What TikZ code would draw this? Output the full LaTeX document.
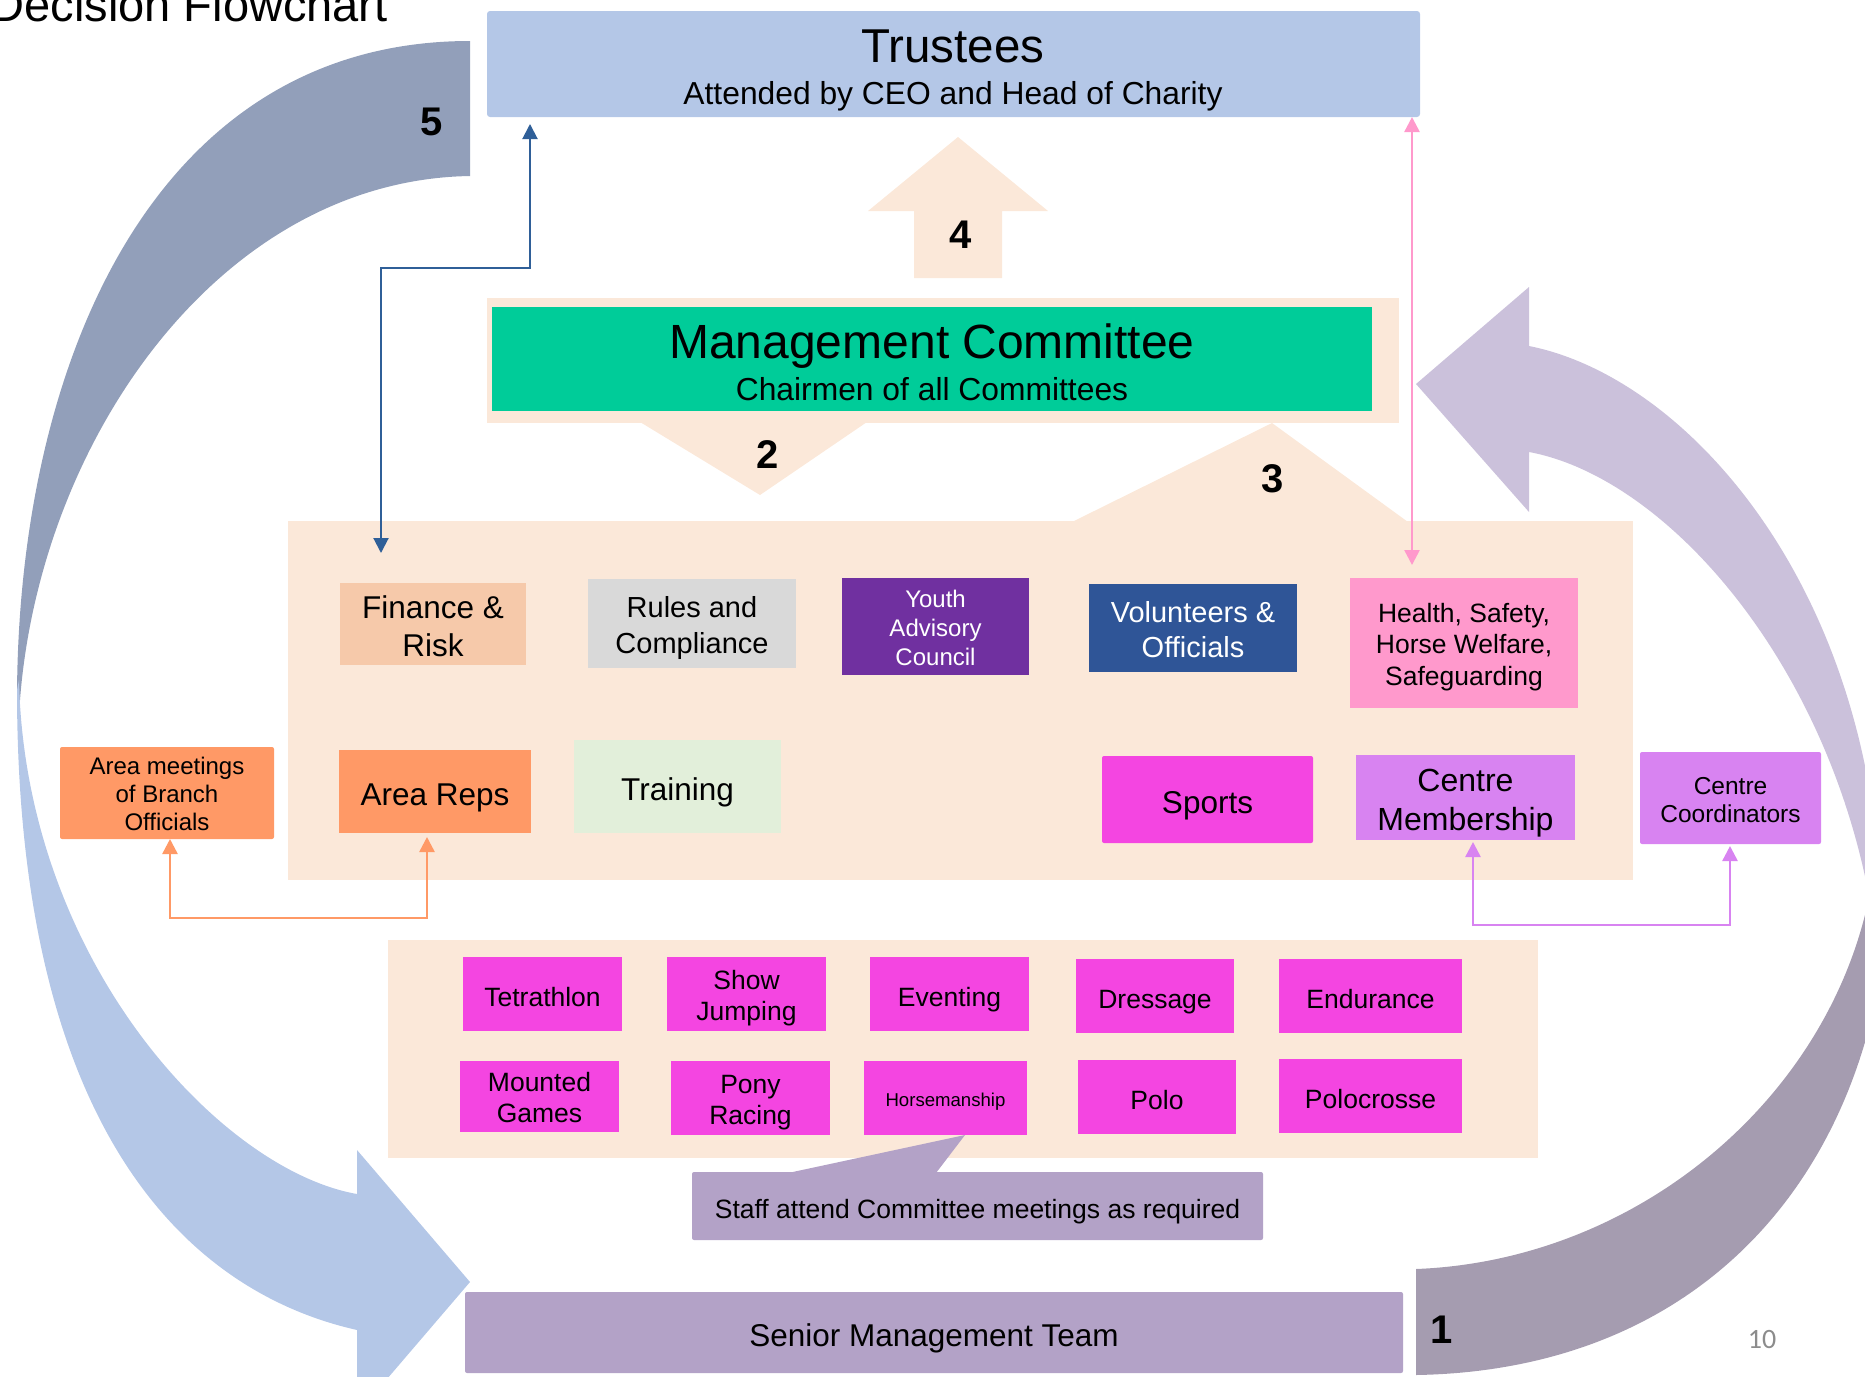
\documentclass[tikz,border=0pt]{standalone}
\usepackage{fontspec}
\setmainfont{Liberation Sans}
\newfontfamily\pgnumfont{Carlito}
\usetikzlibrary{arrows.meta}
\definecolor{peach}{HTML}{FBE8D9}
\definecolor{trustblue}{HTML}{B4C7E7}
\definecolor{mgreen}{HTML}{00CC99}
\definecolor{finc}{HTML}{F6C9AA}
\definecolor{rulesc}{HTML}{D9D9D9}
\definecolor{youthc}{HTML}{7030A0}
\definecolor{volc}{HTML}{2F5597}
\definecolor{healthc}{HTML}{FF99CC}
\definecolor{areac}{HTML}{FF9966}
\definecolor{trainc}{HTML}{E2EFDA}
\definecolor{sportc}{HTML}{F445E1}
\definecolor{centrec}{HTML}{D883F1}
\definecolor{staffc}{HTML}{B3A2C7}
\definecolor{bandgray}{HTML}{929FBA}
\definecolor{bandblue}{HTML}{B4C7E7}
\definecolor{bandlav}{HTML}{CBC1DB}
\definecolor{bandpur}{HTML}{A59CB0}
\definecolor{connblue}{HTML}{2F5F98}
\definecolor{connpink}{HTML}{FF99CC}
\definecolor{connorange}{HTML}{FF9966}
\definecolor{connpurple}{HTML}{D883F1}
\definecolor{pgray}{HTML}{8C8C8C}
\newcommand{\myfs}[2]{\fontsize{#1}{#2}\selectfont}
\newcommand{\mystrutA}{\rule{0pt}{1.125em}}
\newcommand{\mystrutB}{\rule[-0.212em]{0pt}{0.212em}}
\newcommand{\fl}{\rule{0pt}{1.04em}}
\tikzset{
  bx/.style={inner sep=0pt, align=center, execute at begin node=\mystrutA, execute at end node=\mystrutB},
  bg/.style={inner sep=0pt, fill=peach},
  conn/.style={line width=2.5pt, {Triangle[length=15pt,width=15pt]}-{Triangle[length=15pt,width=15pt]}},
  num/.style={font=\myfs{40}{44}\bfseries, inner sep=0pt},
  ttl/.style={inner sep=0pt, anchor=base},
}
\begin{document}
\begin{tikzpicture}[x=1pt,y=-1pt]
\useasboundingbox (0,0) rectangle (1865,1376);
\clip (0,0) rectangle (1865,1376);

% big curved arrows
\fill[bandgray] (470,41) .. controls (150,41) and (17,370) .. (17,700) -- (20,700) .. controls (40,440) and (220,180) .. (470,176) -- cycle;
\fill[bandblue] (17,690) .. controls (17,1120) and (180,1290) .. (357,1330) -- (357,1414) -- (470,1282) -- (357,1150) -- (357,1194) .. controls (220,1170) and (25,960) .. (19,680) -- cycle;
\fill[bandlav] (1416,384) -- (1529,287) -- (1529,346) .. controls (1700,380) and (1900,620) .. (1880,980) .. controls (1860,700) and (1680,480) .. (1529,452) -- (1529,512) -- cycle;
\fill[bandpur] (1416,1269) .. controls (1650,1260) and (1850,1080) .. (1875,860) -- (1890,860) .. controls (1890,1150) and (1720,1370) .. (1416,1375) -- cycle;

% peach backgrounds
\node[bg, minimum width=912pt, minimum height=125pt] (mgmtbg) at (943,360.5) {};
\fill[peach] (640,422) -- (760,495) -- (867,422) -- cycle;
\node[bg, minimum width=1345pt, minimum height=359pt] (commbg) at (960.5,700.5) {};
\fill[peach] (1072,522) -- (1272,423) -- (1408,522) -- cycle;
\fill[peach] (914,278) -- (914,211) -- (868,211) -- (958,137) -- (1048,211) -- (1002,211) -- (1002,278) -- cycle;
\node[bg, minimum width=1150pt, minimum height=218pt] (sportsbg) at (963,1049) {};
\fill[staffc] (788,1173) -- (965,1135) -- (936,1173) -- cycle;

% top boxes
\node[fill=trustblue, rounded corners=3pt, inner sep=0pt, minimum width=933pt, minimum height=106pt] (trustees) at (953.5,64) {};
\node[ttl, font=\myfs{47.5}{50}] (trt) at (953,62) {Trustees};
\node[ttl, font=\myfs{31.8}{34}] (trs) at (953,104) {Attended by CEO and Head of Charity};
\node[fill=mgreen, inner sep=0pt, minimum width=880pt, minimum height=104pt] (mgmt) at (932,359) {};
\node[ttl, font=\myfs{48}{50}] (mgt) at (932,358) {Management Committee};
\node[ttl, font=\myfs{31.8}{34}] (mgs) at (932,400) {Chairmen of all Committees};

% committees
\node[bx, fill=finc, minimum width=186pt, minimum height=82pt, font=\myfs{31.5}{38}] (finance) at (433,624) {\fl Finance \&\\Risk};
\node[bx, fill=rulesc, minimum width=208pt, minimum height=89pt, font=\myfs{29}{36.5}] (rules) at (692,623.5) {\fl Rules and\\Compliance};
\node[bx, fill=youthc, text=white, minimum width=187pt, minimum height=97pt, font=\myfs{24}{29}] (youth) at (935.5,626.5) {\fl Youth\\Advisory\\Council};
\node[bx, fill=volc, text=white, minimum width=208pt, minimum height=88pt, font=\myfs{29}{35}] (vol) at (1193,628) {\fl Volunteers \&\\Officials};
\node[bx, fill=healthc, minimum width=228pt, minimum height=130pt, font=\myfs{26.5}{31.5}] (health) at (1464,643) {\fl Health, Safety,\\Horse Welfare,\\Safeguarding};
\node[bx, fill=areac, rounded corners=2pt, minimum width=214pt, minimum height=92pt, font=\myfs{24}{28}] (areameet) at (167,793) {\fl Area meetings\\of Branch\\Officials};
\node[bx, fill=areac, minimum width=192pt, minimum height=83pt, font=\myfs{31.5}{37}] (areareps) at (435,791.5) {Area Reps};
\node[bx, fill=trainc, minimum width=207pt, minimum height=93pt, font=\myfs{31.5}{37}] (training) at (677.5,786.5) {Training};
\node[bx, fill=sportc, rounded corners=2pt, minimum width=211pt, minimum height=87pt, font=\myfs{31.5}{37}] (sports) at (1207.5,799.5) {Sports};
\node[bx, fill=centrec, minimum width=219pt, minimum height=85pt, font=\myfs{32}{38.5}] (centremem) at (1465.5,797.5) {\fl Centre\\Membership};
\node[bx, fill=centrec, rounded corners=2pt, minimum width=181pt, minimum height=92pt, font=\myfs{24.5}{28}] (centrecoord) at (1730.5,798) {\fl Centre\\Coordinators};

% sports items
\tikzset{sp/.style={bx, fill=sportc, minimum height=74pt, font=\myfs{26.5}{31}}}
\node[sp, minimum width=159pt] (tetra) at (542.5,994) {Tetrathlon};
\node[sp, minimum width=159pt] (showj) at (746.5,994) {\fl Show\\Jumping};
\node[sp, minimum width=159pt] (eventing) at (949.5,994) {Eventing};
\node[sp, minimum width=158pt] (dressage) at (1155,996) {Dressage};
\node[sp, minimum width=183pt] (endurance) at (1370.5,996) {Endurance};
\node[sp, minimum width=159pt, minimum height=71pt] (mounted) at (539.5,1096.5) {\fl Mounted\\Games};
\node[sp, minimum width=159pt] (pony) at (750.5,1098) {\fl Pony\\Racing};
\node[sp, minimum width=163pt, font=\myfs{18.6}{22}] (horse) at (945.5,1098) {Horsemanship};
\node[sp, minimum width=158pt] (polo) at (1157,1097) {Polo};
\node[sp, minimum width=183pt] (polocrosse) at (1370.5,1096) {Polocrosse};

% staff and SMT
\node[bx, fill=staffc, rounded corners=2pt, minimum width=571pt, minimum height=68pt, font=\myfs{26.5}{31}] (staff) at (977.5,1206) {Staff attend Committee meetings as required};
\node[bx, fill=staffc, rounded corners=2pt, minimum width=938pt, minimum height=81pt, font=\myfs{31.5}{37}] (smt) at (934,1332.5) {Senior Management Team};

% connectors
\coordinate (bU) at (530,124);
\coordinate (bK) at (381,268);
\coordinate (bD) at (381,553);
\draw[conn, draw=connblue, line width=2pt] (bU) |- (bK) -- (bD);
\coordinate (pU) at (1412,117);
\coordinate (pD) at (1412,565);
\draw[conn, draw=connpink] (pU) -- (pD);
\coordinate (oL) at (170,839);
\coordinate (oB) at (170,918);
\coordinate (oR) at (427,837);
\draw[conn, draw=connorange] (oL) -- (oB) -| (oR);
\coordinate (cL) at (1473,842);
\coordinate (cB) at (1473,925);
\coordinate (cR) at (1730,846);
\draw[conn, draw=connpurple] (cL) -- (cB) -| (cR);

% step numbers
\node[num] (n1) at (1442,1329.5) {1};
\node[num] (n2) at (768,454.5) {2};
\node[num] (n3) at (1273,478.5) {3};
\node[num] (n4) at (961,234.5) {4};
\node[num] (n5) at (432,121.5) {5};

% title and page number
\node[inner sep=0pt, anchor=base east, font=\myfs{47}{50}] (title) at (388,21) {Decision Flowchart};
\node[inner sep=0pt, anchor=base, text=pgray, font=\pgnumfont\myfs{28}{30}] (pg) at (1762,1348) {10};
\end{tikzpicture}
\end{document}
